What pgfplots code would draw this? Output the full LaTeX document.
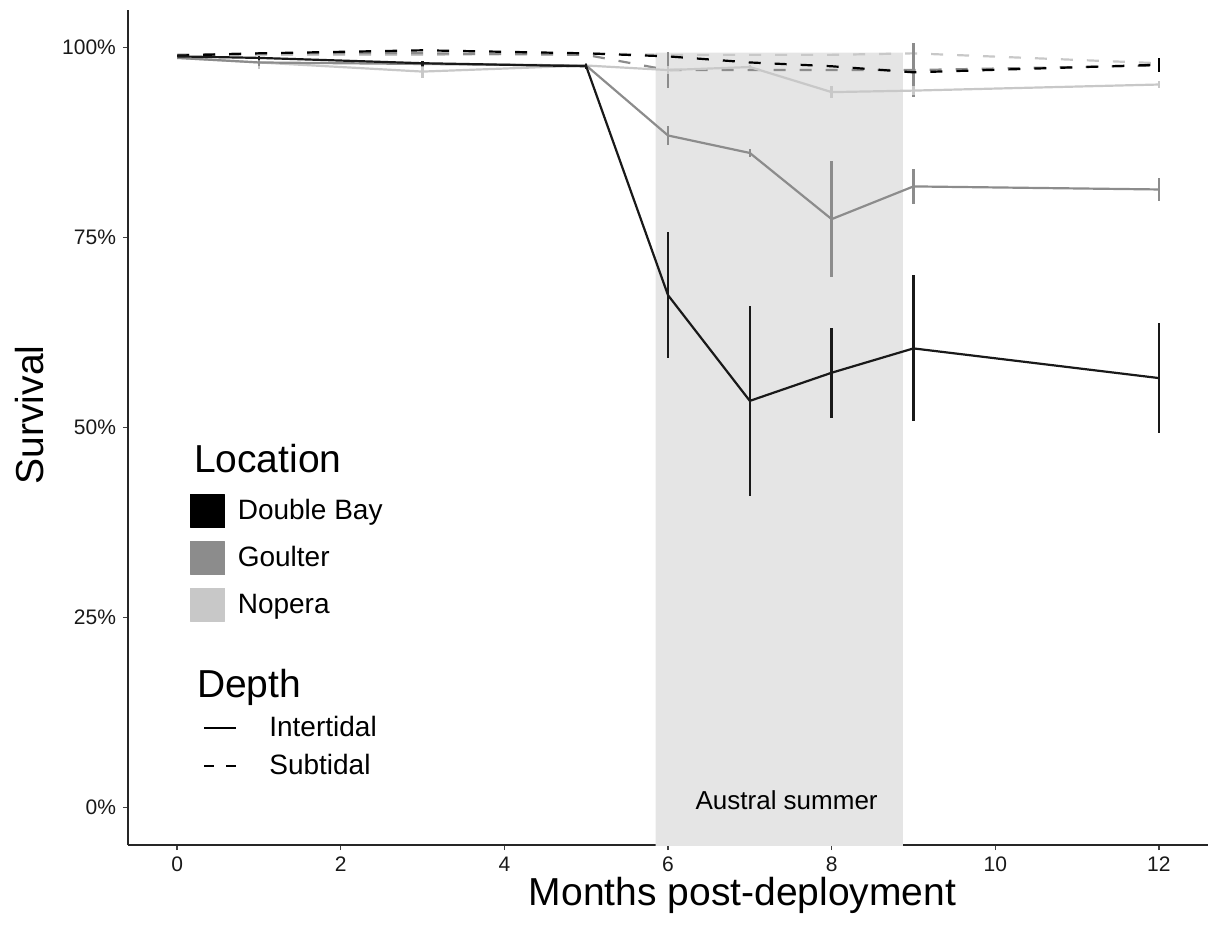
\documentclass[border=0pt]{standalone}
\usepackage{pgfplots}
\usepackage{pgfplotstable}
\pgfplotsset{compat=1.18}
\usepackage{fontspec}
\setmainfont{Liberation Sans}
\definecolor{cDB}{RGB}{0,0,0}
\definecolor{cGO}{RGB}{140,140,140}
\definecolor{cNO}{RGB}{200,200,200}
\definecolor{cShade}{RGB}{229,229,229}

\pgfplotstableread{
x y e
0 98.8 0
1 98.6 0.3
3 97.9 0.3
5 97.5 0.3
6 67.4 8.3
7 53.5 12.5
8 57.2 5.9
9 60.4 9.6
12 56.5 7.2
}\dbint
\pgfplotstableread{
x y e
0 98.6 0
1 98.0 0.4
3 97.8 0.4
5 97.6 0.3
6 88.4 1.3
7 86.1 0.5
8 77.4 7.6
9 81.7 2.3
12 81.3 1.5
}\goint
\pgfplotstableread{
x y e
0 98.6 0
1 98.0 0.9
3 96.8 0.8
5 97.6 0.3
6 97.0 0.5
7 97.4 0.3
8 94.1 0.8
9 94.3 0.6
12 95.1 0.4
}\noint
\pgfplotstableread{
x y e
0 98.9 0
1 99.2 0
3 99.6 0
5 99.2 0
6 98.8 0
7 98.0 0
8 97.5 0
9 96.7 0
12 97.7 0.9
}\dbsub
\pgfplotstableread{
x y e
0 99.0 0
1 99.2 0
3 99.2 0
5 99.0 0
6 97.0 2.4
7 97.0 0
8 97.0 0
9 97.0 3.5
12 97.6 0.4
}\gosub
\pgfplotstableread{
x y e
0 99.0 0
1 99.0 0
3 99.0 0
5 99.2 0
6 99.0 0
7 99.0 0
8 99.0 0
9 99.2 0
12 97.9 0.5
}\nosub

\begin{document}
\begin{tikzpicture}
\useasboundingbox (-64pt,-48pt) rectangle (540pt,422.5pt);
\begin{axis}[
  scale only axis, width=540pt, height=417.5pt,
  xmin=-0.6, xmax=12.6, ymin=-4.9, ymax=104.9,
  axis x line*=bottom, axis y line*=left,
  axis line style={line width=0.8pt, black!85},
  xtick={0,2,...,12}, ytick={0,25,50,75,100},
  yticklabels={0\%,25\%,50\%,75\%,100\%},
  tick align=outside, major tick length=2.5pt,
  tick style={line width=0.7pt, black!75},
  tick label style={font=\fontsize{10.5}{12.5}\selectfont, text=black!90},
  /pgf/number format/assume math mode=true,
  xlabel={Months post-deployment}, ylabel={Survival},
  label style={font=\fontsize{19.5}{23}\selectfont},
  xlabel style={at={(axis description cs:0.569,-0.072)}, anchor=base},
  ylabel style={at={(axis description cs:-0.0907,0.515)}, anchor=center},
  legend style={at={(axis description cs:0.0574,0.4204)}, anchor=north west,
    draw=none, fill=none, inner sep=0pt, row sep=6.5pt,
    font=\fontsize{14}{16}\selectfont},
  legend cell align=left,
  every axis plot/.append style={line join=round},
]
\addplot[forget plot, fill=cShade, draw=none] coordinates {(5.85,-10) (8.87,-10) (8.87,99.3) (5.85,99.3)} \closedcycle;
\node[font=\fontsize{13}{15}\selectfont, anchor=center] at (axis cs:7.45,1.05) {Austral summer};

% subtidal (dashed)
\addplot[forget plot, cNO, line width=1.1pt, dash pattern=on 6pt off 7pt, error bars/.cd, y dir=both, y explicit, error mark=none, error bar style={line width=1.2pt, solid}] table[x=x,y=y,y error=e]{\nosub};
\addplot[forget plot, cGO, line width=1.1pt, dash pattern=on 6pt off 7pt, error bars/.cd, y dir=both, y explicit, error mark=none, error bar style={line width=1.2pt, solid}] table[x=x,y=y,y error=e]{\gosub};
\addplot[forget plot, cDB, line width=1.1pt, dash pattern=on 6pt off 7pt, error bars/.cd, y dir=both, y explicit, error mark=none, error bar style={line width=1.2pt, solid}] table[x=x,y=y,y error=e]{\dbsub};
% intertidal (solid)
\addplot[forget plot, cNO, line width=1.1pt, error bars/.cd, y dir=both, y explicit, error mark=none, error bar style={line width=1.2pt}] table[x=x,y=y,y error=e]{\noint};
\addplot[forget plot, cGO, line width=1.1pt, error bars/.cd, y dir=both, y explicit, error mark=none, error bar style={line width=1.2pt}] table[x=x,y=y,y error=e]{\goint};
\addplot[forget plot, cDB!90, line width=1.1pt, error bars/.cd, y dir=both, y explicit, error mark=none, error bar style={line width=1.3pt}] table[x=x,y=y,y error=e]{\dbint};

\addlegendimage{legend image code/.code={\fill[cDB] (0pt,-8.25pt) rectangle (17pt,8.25pt); \path[draw=none] (0pt,0pt) -- (21.5pt,0pt);}}
\addlegendentry{Double Bay}
\addlegendimage{legend image code/.code={\fill[cGO] (0pt,-8.25pt) rectangle (17pt,8.25pt); \path[draw=none] (0pt,0pt) -- (21.5pt,0pt);}}
\addlegendentry{Goulter}
\addlegendimage{legend image code/.code={\fill[cNO] (0pt,-8.25pt) rectangle (17pt,8.25pt); \path[draw=none] (0pt,0pt) -- (21.5pt,0pt);}}
\addlegendentry{Nopera}

\node[anchor=base west, font=\fontsize{19.5}{23}\selectfont] at (axis description cs:0.0546,0.4467) {Location};
\node[anchor=base west, font=\fontsize{19.5}{23}\selectfont] at (axis description cs:0.0574,0.177) {Depth};
\end{axis}
\begin{axis}[
  scale only axis, width=540pt, height=417.5pt, hide axis,
  xmin=0, xmax=1, ymin=0, ymax=1,
  legend style={at={(axis description cs:0.0694,0.159)}, anchor=north west,
    draw=none, fill=none, inner sep=0pt, row sep=3pt,
    font=\fontsize{14}{16}\selectfont},
  legend cell align=left,
]
\addlegendimage{legend image code/.code={\draw[black, line width=1pt] (0pt,0pt) -- (16pt,0pt); \path[draw=none] (0pt,0pt) -- (30.5pt,0pt);}}
\addlegendentry{Intertidal}
\addlegendimage{legend image code/.code={\draw[black, line width=1pt, dash pattern=on 5pt off 6pt] (0pt,0pt) -- (16pt,0pt); \path[draw=none] (0pt,0pt) -- (30.5pt,0pt);}}
\addlegendentry{Subtidal}
\end{axis}
\end{tikzpicture}
\end{document}
